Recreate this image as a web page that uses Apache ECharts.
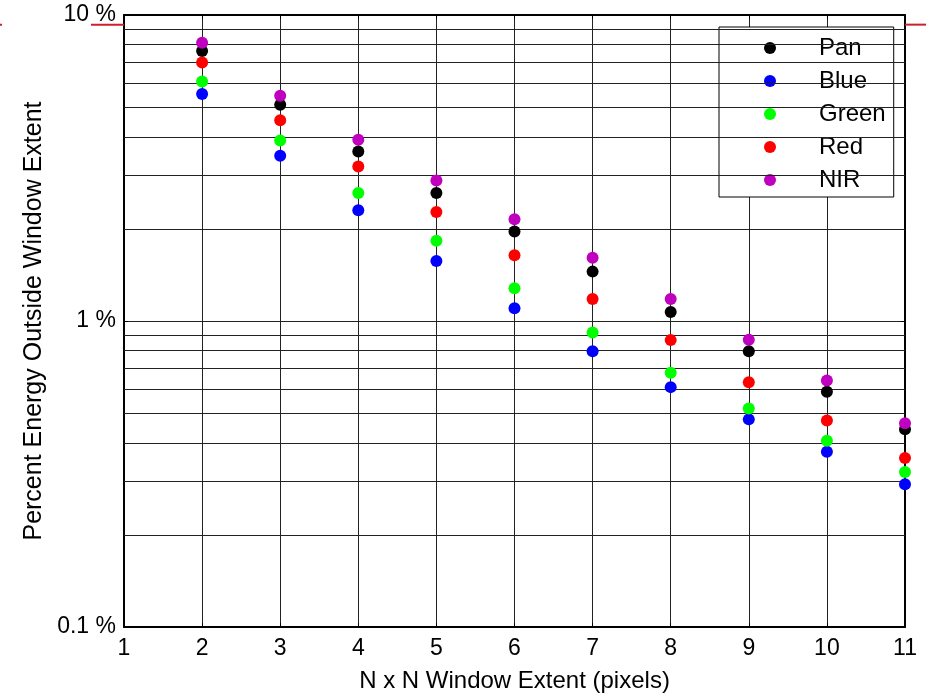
<!DOCTYPE html>
<html>
<head>
<meta charset="utf-8">
<script src="https://cdn.jsdelivr.net/npm/echarts@6/dist/echarts.min.js"></script>
<style>
  html, body { margin: 0; padding: 0; background: #fff; }
  #chart { width: 926px; height: 698px; }
</style>
</head>
<body>
<div id="chart"></div>
<script>
// window extent N (pixels)
const windowSizes = [2, 3, 4, 5, 6, 7, 8, 9, 10, 11];

// percent energy outside window, per band
const panValues   = [7.63, 5.09, 3.58, 2.62, 1.96, 1.45, 1.07, 0.797, 0.587, 0.443];
const blueValues  = [5.52, 3.47, 2.30, 1.57, 1.10, 0.797, 0.608, 0.477, 0.374, 0.293];
const greenValues = [6.06, 3.89, 2.62, 1.83, 1.28, 0.917, 0.678, 0.518, 0.406, 0.321];
const redValues   = [6.99, 4.53, 3.20, 2.27, 1.64, 1.18, 0.866, 0.631, 0.473, 0.357];
const nirValues   = [8.12, 5.45, 3.91, 2.88, 2.15, 1.61, 1.18, 0.868, 0.639, 0.463];

const bandNames  = ['Pan', 'Blue', 'Green', 'Red', 'NIR'];
const bandColors = ['#000000', '#0000ff', '#00ff00', '#ff0000', '#bf00bf'];
const bandValues = [panValues, blueValues, greenValues, redValues, nirValues];

// minor log grid levels (2..9 of each decade)
const minorGrid = [0.2, 0.3, 0.4, 0.5, 0.6, 0.7, 0.8, 0.9, 2, 3, 4, 5, 6, 7, 8, 9];
// stray red reference line level near the top
const redRefLevel = 9.3;

const font = 'Liberation Sans, Arial, sans-serif';
const gridColor = '#222';

const chart = echarts.init(document.getElementById('chart'));

function fmtPct(v) {
  return Number(v.toPrecision(2)) + ' %';
}

const series = bandNames.map((name, i) => ({
  name: name,
  type: 'scatter',
  symbol: 'circle',
  symbolSize: 12,
  itemStyle: { color: bandColors[i], opacity: 1 },
  data: windowSizes.map((x, j) => [x, bandValues[i][j]]),
  z: 5
}));

// minor horizontal grid lines through the log axis
series.unshift({
  name: 'minor-grid',
  type: 'scatter',
  data: [],
  silent: true,
  markLine: {
    silent: true,
    symbol: 'none',
    label: { show: false },
    lineStyle: { color: gridColor, width: 1, type: 'solid' },
    data: minorGrid.map(v => ({ yAxis: v }))
  },
  z: 1
});

const option = {
  animation: false,
  backgroundColor: '#fff',
  textStyle: { fontFamily: font },
  grid: { left: 124, right: 21, top: 15, bottom: 70 },
  legend: {
    data: bandNames,
    orient: 'vertical',
    left: 719,
    top: 27,
    padding: [9, 8, 5, 45],
    itemWidth: 88,
    itemHeight: 12,
    itemGap: 9,
    icon: 'circle',
    backgroundColor: '#fff',
    borderColor: '#000',
    borderWidth: 1,
    textStyle: { fontSize: 24, color: '#000', fontFamily: font }
  },
  xAxis: [{
    type: 'value',
    min: 1,
    max: 11,
    interval: 1,
    name: 'N x N Window Extent (pixels)',
    nameLocation: 'middle',
    nameGap: 42,
    nameTextStyle: { fontSize: 24, color: '#000', fontFamily: font },
    axisLine: { lineStyle: { color: '#000', width: 2 } },
    axisTick: { inside: true, length: 4, lineStyle: { color: '#000' } },
    axisLabel: { fontSize: 23, color: '#000', margin: 10, fontFamily: font },
    splitLine: { show: true, lineStyle: { color: gridColor, width: 1 } }
  }, {
    type: 'value',
    position: 'top',
    min: 1,
    max: 11,
    interval: 1,
    axisLine: { lineStyle: { color: '#000', width: 2 } },
    axisTick: { inside: true, length: 4, lineStyle: { color: '#000' } },
    axisLabel: { show: false },
    splitLine: { show: false }
  }],
  yAxis: [{
    type: 'log',
    logBase: 10,
    min: 0.1,
    max: 10,
    name: 'Percent Energy Outside Window Extent',
    nameLocation: 'middle',
    nameGap: 70,
    nameTextStyle: { fontSize: 25, color: '#000', fontFamily: font },
    axisLine: { show: true, lineStyle: { color: '#000', width: 2 } },
    axisTick: { inside: true, length: 4, lineStyle: { color: '#000' } },
    axisLabel: { fontSize: 23, color: '#000', margin: 8, fontFamily: font, formatter: fmtPct },
    splitLine: { show: true, lineStyle: { color: gridColor, width: 1 } }
  }, {
    type: 'log',
    logBase: 10,
    min: 0.1,
    max: 10,
    position: 'right',
    axisLine: { show: true, lineStyle: { color: '#000', width: 2 } },
    axisTick: { inside: true, length: 4, lineStyle: { color: '#000' } },
    axisLabel: { show: false },
    splitLine: { show: false }
  }],
  series: series
};

chart.setOption(option);

// stray red line segments outside the plot box
const refY = chart.convertToPixel({ yAxisIndex: 0 }, redRefLevel);
const left = option.grid.left;
const right = 926 - option.grid.right;
chart.setOption({
  graphic: [
    { type: 'line', shape: { x1: 91, y1: refY, x2: left, y2: refY }, style: { stroke: '#cc1f2f', lineWidth: 2 }, z: 100 },
    { type: 'line', shape: { x1: 0, y1: refY, x2: 2, y2: refY }, style: { stroke: '#cc1f2f', lineWidth: 2 }, z: 100 },
    { type: 'line', shape: { x1: right, y1: refY, x2: 926, y2: refY }, style: { stroke: '#cc1f2f', lineWidth: 2 }, z: 100 }
  ]
});
</script>
</body>
</html>
